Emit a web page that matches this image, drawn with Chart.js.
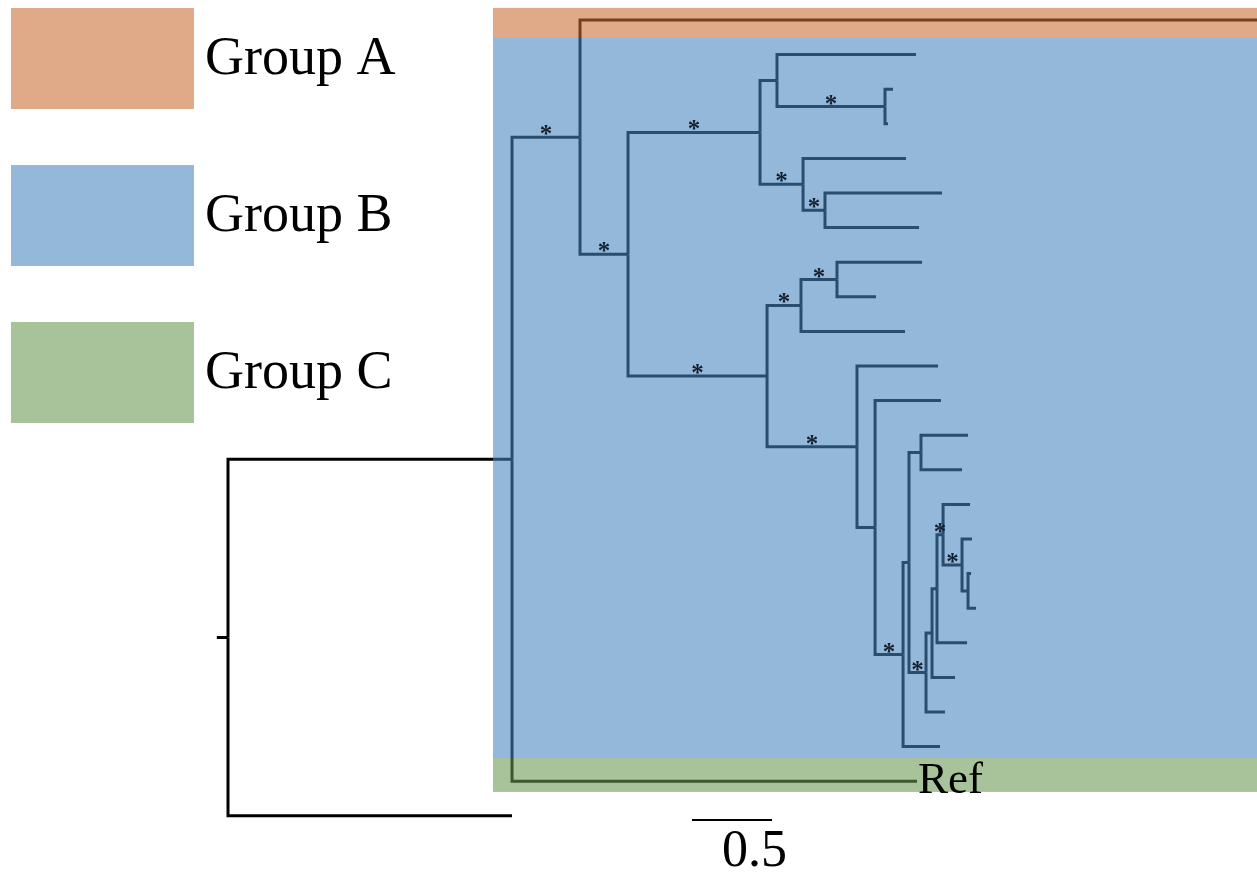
<!DOCTYPE html>
<html>
<head>
<meta charset="utf-8">
<script src="https://cdn.jsdelivr.net/npm/chart.js@4/dist/chart.umd.min.js"></script>
<style>
  html, body { margin: 0; padding: 0; background: #ffffff; }
  #wrap { width: 1257px; height: 872px; }
</style>
</head>
<body>
<div id="wrap"><canvas id="tree" width="1257" height="872"></canvas></div>
<script>
// Tree nodes in preorder: parent index (-1 = root) and distance from the root.
const nodeParent = [-1, 0, 1, 2, 2, 4, 5, 6, 6, 8, 8, 5, 11, 11, 13, 13,
                    4, 16, 17, 18, 18, 17, 16, 22, 22, 24, 24, 26, 27, 28, 28,
                    27, 31, 32, 33, 34, 34, 36, 36, 38, 38, 33, 32, 31, 26, 1, 0];
const nodeDepth = [0, 1.775, 2.2, 6.6, 2.5, 3.325, 3.431, 4.3, 4.106, 4.156, 4.125,
                   3.594, 4.2375, 3.731, 4.4625, 4.319,
                   3.369, 3.581, 3.806, 4.3375, 4.05, 4.231, 3.931, 4.4375, 4.044,
                   4.456, 4.219, 4.256, 4.331, 4.625, 4.5875,
                   4.3625, 4.4, 4.431, 4.469, 4.6375, 4.5875, 4.65, 4.625, 4.644, 4.675,
                   4.619, 4.544, 4.481, 4.45, 4.306, 1.775];
const rootStem = 0.07;

// Nodes whose incoming branch is marked as supported ("*").
const supportedNodes = [2, 4, 5, 8, 11, 13, 16, 17, 18, 22, 26, 31, 34, 36];

// Tip labels shown next to their leaves.
const labelledNodes = [45];
const labelTexts = ['Ref'];

// Group shading: leaf-row ranges and colours.
const groupNames = ['Group A', 'Group B', 'Group C'];
const groupColors = [[224, 169, 135], [148, 184, 218], [168, 194, 154]];
const groupFrom = [-0.35, 0.52, 21.33];
const groupTo = [0.52, 21.33, 22.31];
const groupBandStart = 1.656;

// Scale bar.
const scaleBarStart = 2.9;
const scaleBarLength = 0.5;
const scaleBarRow = 23.12;
const scaleBarLabel = '0.5';

// ---- layout of the tree: leaf rows in order, internal nodes centred on their children
const n = nodeParent.length;
const children = nodeParent.map(() => []);
nodeParent.forEach((p, i) => { if (p >= 0) children[p].push(i); });
const nodeY = new Array(n);
let leafRow = 0;
for (let i = 0; i < n; i++) if (children[i].length === 0) nodeY[i] = leafRow++;
for (let i = n - 1; i >= 0; i--) {
  const c = children[i];
  if (c.length) nodeY[i] = (nodeY[c[0]] + nodeY[c[c.length - 1]]) / 2;
}

const lineStyle = {
  showLine: true, borderColor: '#000000', borderWidth: 3, pointRadius: 0,
  pointHoverRadius: 0, fill: false, tension: 0, borderJoinStyle: 'miter', borderCapStyle: 'butt'
};
const datasets = [];
datasets.push(Object.assign({ data: [{ x: -rootStem, y: nodeY[0] }, { x: 0, y: nodeY[0] }] }, lineStyle));
for (let i = 0; i < n; i++) {
  const p = nodeParent[i];
  if (p < 0) continue;
  datasets.push(Object.assign({
    data: [
      { x: nodeDepth[p], y: nodeY[p] },
      { x: nodeDepth[p], y: nodeY[i] },
      { x: nodeDepth[i], y: nodeY[i] }
    ]
  }, lineStyle));
}

const OVERLAY_ALPHA = 0.58;
function overlayColor(rgb) {
  const a = OVERLAY_ALPHA;
  const s = rgb.map(v => Math.max(0, Math.min(255, Math.round((v - (1 - a) * 255) / a))));
  return `rgba(${s[0]},${s[1]},${s[2]},${a})`;
}

const decorations = {
  id: 'treeDecorations',
  afterDatasetsDraw(chart) {
    const ctx = chart.ctx;
    const xs = chart.scales.x, ys = chart.scales.y;
    const area = chart.chartArea;
    ctx.save();

    // translucent group bands laid over the branches
    const bx = xs.getPixelForValue(groupBandStart);
    groupNames.forEach((g, k) => {
      const y0 = ys.getPixelForValue(groupFrom[k]);
      const y1 = ys.getPixelForValue(groupTo[k]);
      ctx.fillStyle = overlayColor(groupColors[k]);
      ctx.fillRect(bx, y0, area.right - bx, y1 - y0);
    });

    // support asterisks above the branch midpoints
    ctx.fillStyle = '#14202e';
    ctx.font = 'bold 25px "Liberation Serif", "Times New Roman", serif';
    ctx.textAlign = 'center';
    ctx.textBaseline = 'alphabetic';
    supportedNodes.forEach(i => {
      const p = nodeParent[i];
      const xm = xs.getPixelForValue((nodeDepth[p] + nodeDepth[i]) / 2);
      const y = ys.getPixelForValue(nodeY[i]);
      ctx.fillText('*', xm, y + 5);
    });

    // tip labels
    ctx.fillStyle = '#000000';
    ctx.font = '45px "Liberation Serif", "Times New Roman", serif';
    ctx.textAlign = 'left';
    labelledNodes.forEach((i, k) => {
      ctx.fillText(labelTexts[k], xs.getPixelForValue(nodeDepth[i]) + 1, ys.getPixelForValue(nodeY[i]) + 12);
    });

    // scale bar
    const sx0 = xs.getPixelForValue(scaleBarStart);
    const sx1 = xs.getPixelForValue(scaleBarStart + scaleBarLength);
    const sy = ys.getPixelForValue(scaleBarRow);
    ctx.strokeStyle = '#000000';
    ctx.lineWidth = 2;
    ctx.beginPath();
    ctx.moveTo(sx0, sy);
    ctx.lineTo(sx1, sy);
    ctx.stroke();
    ctx.font = '52px "Liberation Serif", "Times New Roman", serif';
    ctx.textAlign = 'left';
    ctx.fillText(scaleBarLabel, sx0 + 30, sy + 46);

    // group key
    ctx.font = '54px "Liberation Serif", "Times New Roman", serif';
    groupNames.forEach((g, k) => {
      const top = 8 + k * 157;
      const c = groupColors[k];
      ctx.fillStyle = `rgb(${c[0]},${c[1]},${c[2]})`;
      ctx.fillRect(11, top, 183, 101);
      ctx.fillStyle = '#000000';
      ctx.fillText(g, 205, top + 66);
    });

    ctx.restore();
  }
};

new Chart(document.getElementById('tree'), {
  type: 'scatter',
  data: { datasets },
  options: {
    responsive: false,
    animation: false,
    layout: { padding: 0 },
    plugins: { legend: { display: false }, tooltip: { enabled: false }, title: { display: false } },
    events: [],
    scales: {
      x: { type: 'linear', display: false, min: -1.425, max: 6.431 },
      y: { type: 'linear', display: false, reverse: true, min: -0.578, max: 24.624 }
    }
  },
  plugins: [decorations]
});
</script>
</body>
</html>
